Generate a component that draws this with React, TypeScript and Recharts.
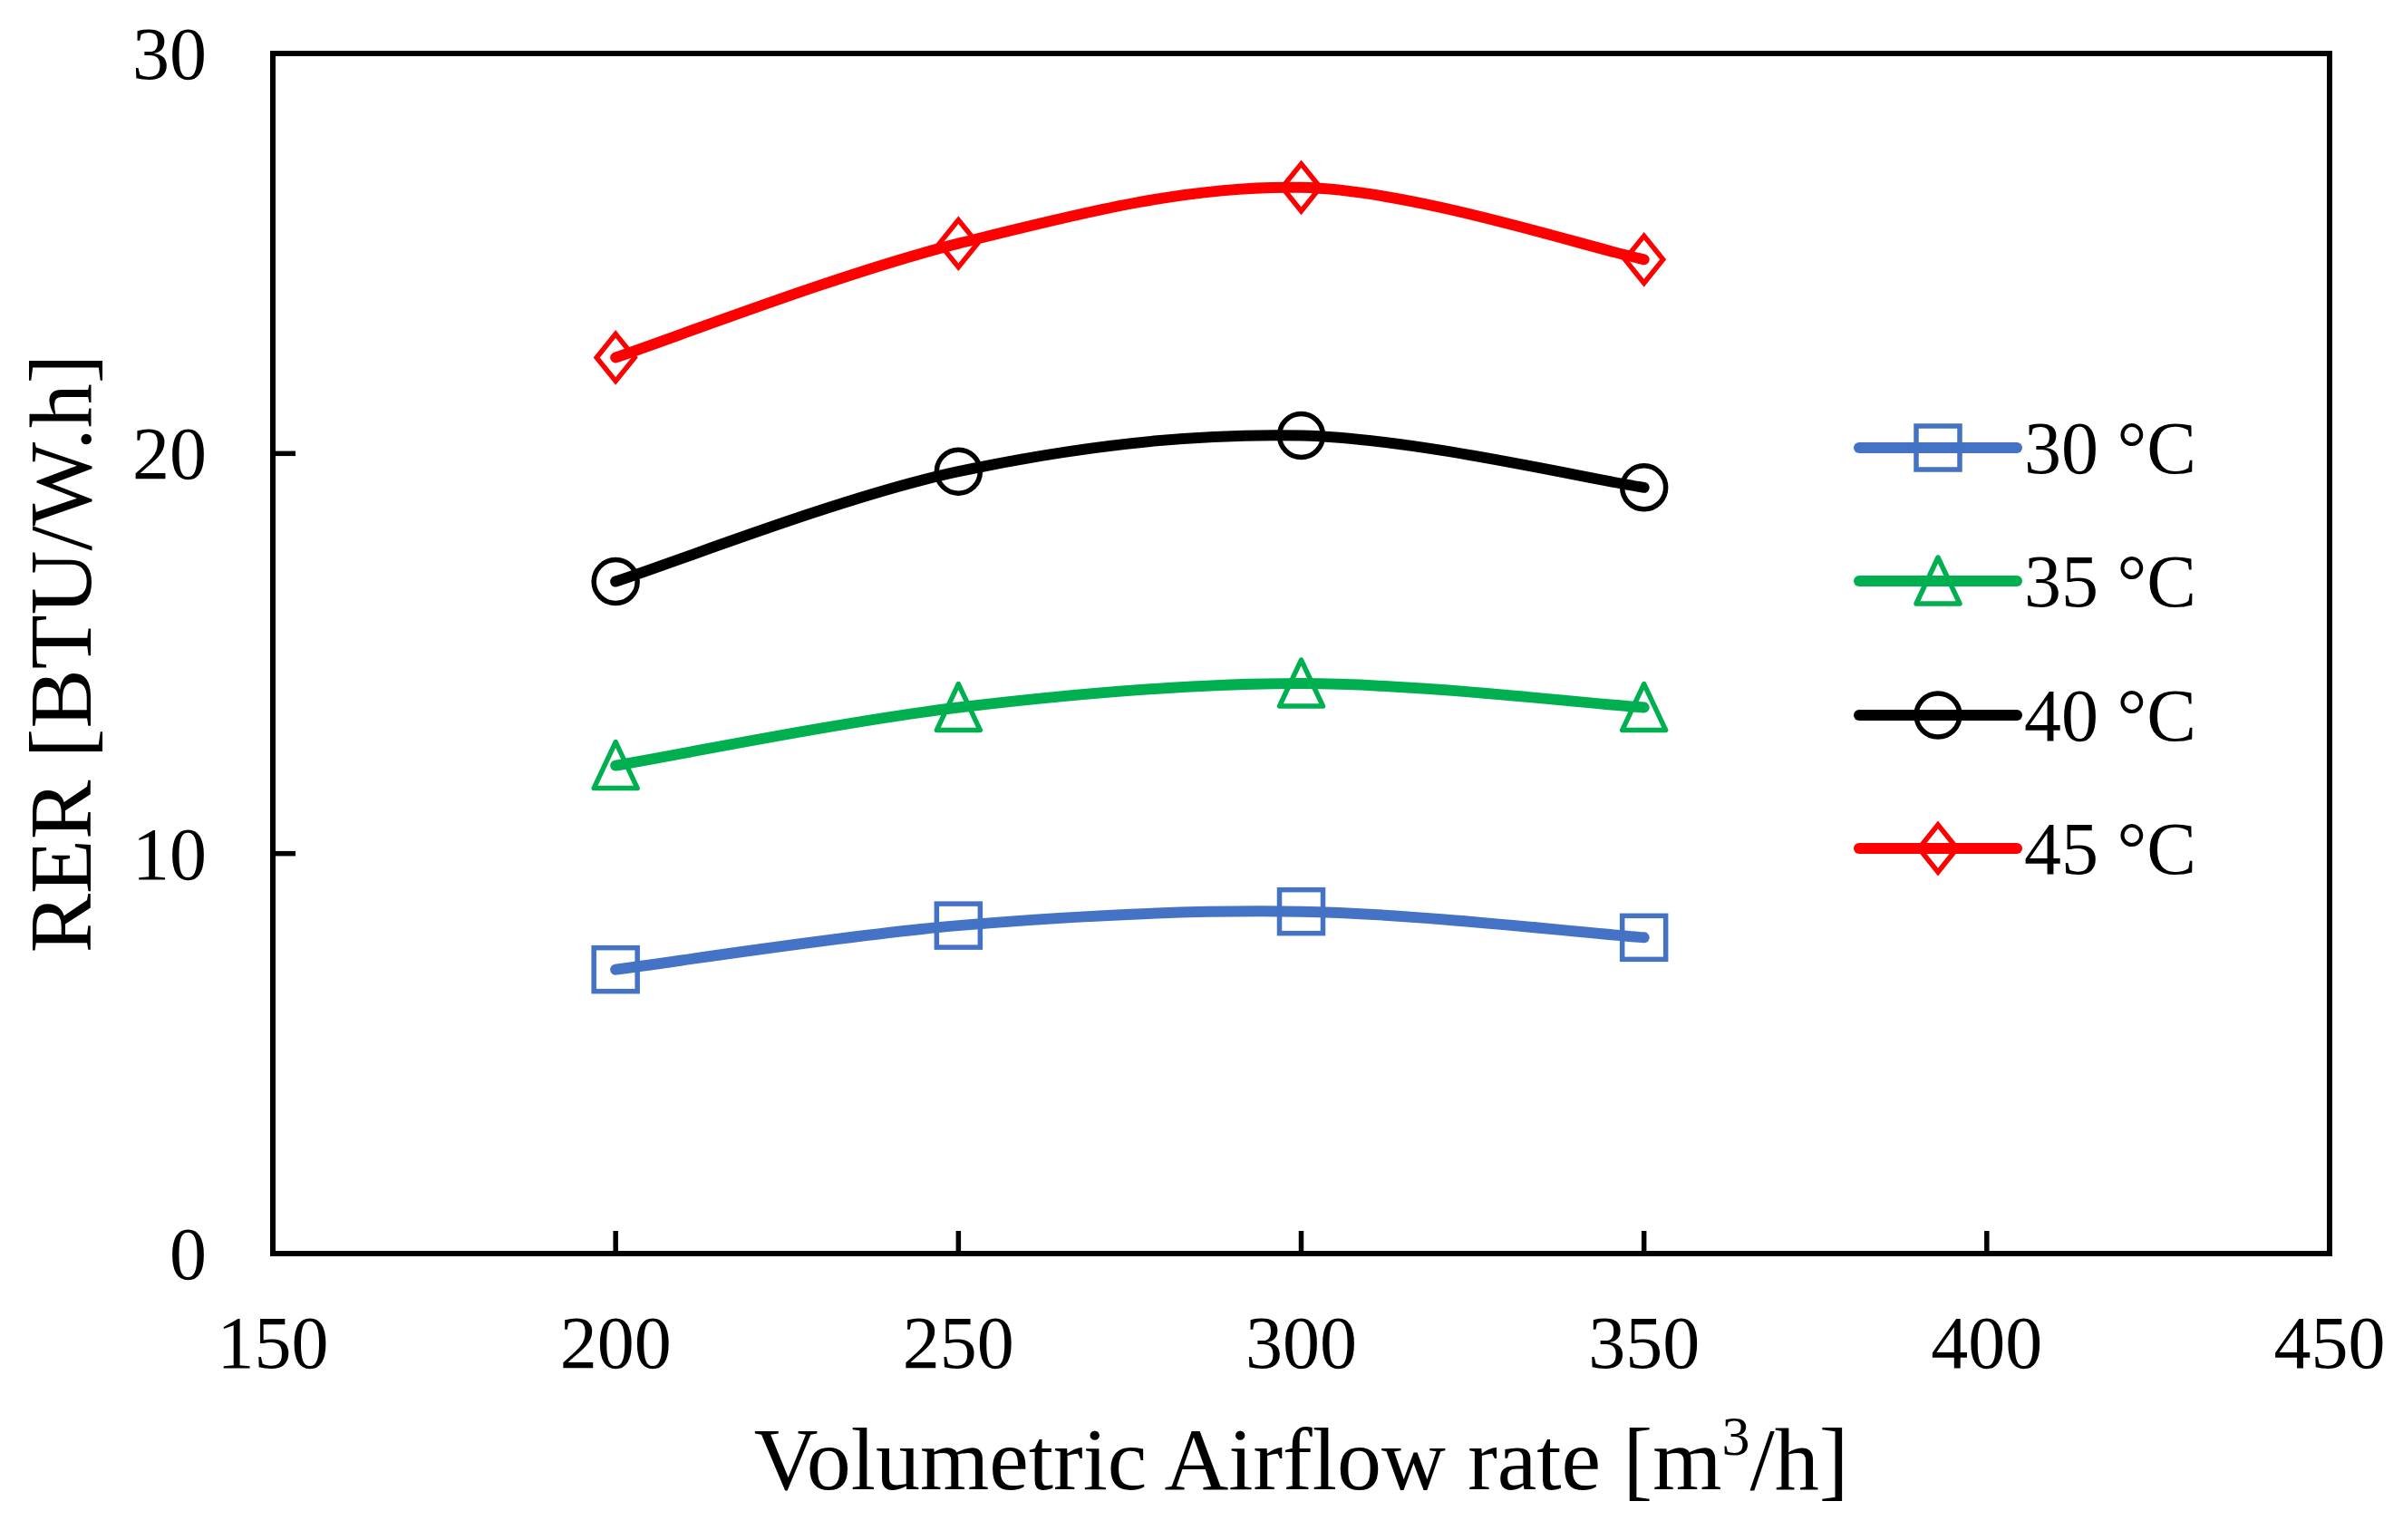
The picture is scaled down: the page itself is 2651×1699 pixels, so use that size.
import { Legend, Line, LineChart, ReferenceArea, XAxis, YAxis } from "recharts";

// Volumetric airflow rate [m3/h] and RER readings per ambient temperature
const airflow = [200, 250, 300, 350];
const rer30 = [7.1, 8.2, 8.55, 7.9];
const rer35 = [12.2, 13.65, 14.25, 13.65];
const rer40 = [16.8, 19.55, 20.45, 19.15];
const rer45 = [22.4, 25.25, 26.65, 24.85];

const xTicks = [150, 200, 250, 300, 350, 400, 450];
const yTicks = [0, 10, 20, 30];

const FONT = "'Liberation Serif', 'Times New Roman', serif";
const STROKE = 5.5;
const AXIS = 6;

type Shape = "square" | "triangle" | "circle" | "diamond";

const SERIES: { key: string; name: string; color: string; shape: Shape }[] = [
  { key: "t30", name: "30 °C", color: "#4472C4", shape: "square" },
  { key: "t35", name: "35 °C", color: "#00B050", shape: "triangle" },
  { key: "t40", name: "40 °C", color: "#000000", shape: "circle" },
  { key: "t45", name: "45 °C", color: "#FF0000", shape: "diamond" },
];

const data = airflow.map((x, i) => ({
  x,
  t30: rer30[i],
  t35: rer35[i],
  t40: rer40[i],
  t45: rer45[i],
}));

// Excel-like smoothed line (Catmull-Rom through the points)
function excelSmooth(context: any) {
  let pts: number[][] = [];
  return {
    areaStart() {},
    areaEnd() {},
    lineStart() {
      pts = [];
    },
    point(x: number, y: number) {
      pts.push([+x, +y]);
    },
    lineEnd() {
      if (!pts.length) return;
      context.moveTo(pts[0][0], pts[0][1]);
      for (let i = 0; i < pts.length - 1; i++) {
        const p0 = pts[i - 1] ?? pts[i];
        const p1 = pts[i];
        const p2 = pts[i + 1];
        const p3 = pts[i + 2] ?? p2;
        context.bezierCurveTo(
          p1[0] + (p2[0] - p0[0]) / 6,
          p1[1] + (p2[1] - p0[1]) / 6,
          p2[0] - (p3[0] - p1[0]) / 6,
          p2[1] - (p3[1] - p1[1]) / 6,
          p2[0],
          p2[1]
        );
      }
    },
  };
}

function Marker({ cx, cy, shape, color }: { cx: number; cy: number; shape: Shape; color: string }) {
  const common = { fill: "none", stroke: color, strokeWidth: STROKE };
  if (shape === "square") {
    return <rect x={cx - 24} y={cy - 24} width={48} height={48} {...common} />;
  }
  if (shape === "circle") {
    return <circle cx={cx} cy={cy} r={24} {...common} />;
  }
  if (shape === "triangle") {
    return (
      <path
        d={`M${cx},${cy - 26}L${cx + 24},${cy + 25}L${cx - 24},${cy + 25}Z`}
        strokeLinejoin="round"
        {...common}
      />
    );
  }
  return (
    <path d={`M${cx},${cy - 26}L${cx + 21},${cy}L${cx},${cy + 26}L${cx - 21},${cy}Z`} {...common} />
  );
}

function XTick({ x, y, payload }: any) {
  const inner = payload.value !== 150 && payload.value !== 450;
  return (
    <g>
      {inner && <line x1={x} x2={x} y1={y} y2={y - 25} stroke="#000" strokeWidth={STROKE} />}
      <text x={x} y={y + 126} textAnchor="middle" fontSize={82} fontFamily={FONT} fill="#000">
        {payload.value}
      </text>
    </g>
  );
}

function YTick({ x, y, payload }: any) {
  const inner = payload.value !== 0 && payload.value !== 30;
  return (
    <g>
      {inner && <line x1={x} x2={x + 25} y1={y} y2={y} stroke="#000" strokeWidth={STROKE} />}
      <text x={x - 73} y={y + 28} textAnchor="end" fontSize={82} fontFamily={FONT} fill="#000">
        {payload.value}
      </text>
    </g>
  );
}

function LegendBox() {
  return (
    <div style={{ fontFamily: FONT }}>
      {SERIES.map((s) => (
        <div key={s.key} style={{ display: "flex", alignItems: "center", height: 147.5 }}>
          <svg width={186} height={70} style={{ overflow: "visible" }}>
            <line x1={6} x2={180} y1={35} y2={35} stroke={s.color} strokeWidth={12} strokeLinecap="round" />
            <Marker cx={93} cy={35} shape={s.shape} color={s.color} />
          </svg>
          <span style={{ fontSize: 82, lineHeight: "70px", marginLeft: 2, marginTop: 2 }}>{s.name}</span>
        </div>
      ))}
    </div>
  );
}

export default function App() {
  return (
    <div style={{ width: 2651, height: 1699, background: "#fff" }}>
      <style>{"body{margin:0}"}</style>
      <LineChart
        width={2651}
        height={1699}
        data={data}
        margin={{ top: 59, right: 81, bottom: 0, left: 0 }}
      >
        <ReferenceArea
          x1={150}
          x2={450}
          y1={0}
          y2={30}
          fill="none"
          stroke="#000"
          strokeWidth={AXIS}
          fillOpacity={0}
          ifOverflow="visible"
        />
        <XAxis
          dataKey="x"
          type="number"
          domain={[150, 450]}
          ticks={xTicks}
          height={316}
          tickSize={0}
          tickMargin={0}
          tickLine={false}
          axisLine={{ stroke: "#000", strokeWidth: AXIS }}
          tick={<XTick />}
          interval={0}
          label={{
            content: ({ viewBox }: any) => (
              <text
                x={viewBox.x + viewBox.width / 2}
                y={viewBox.y + 260}
                textAnchor="middle"
                fontSize={98}
                fontFamily={FONT}
                fill="#000"
              >
                Volumetric Airflow rate [m
                <tspan dy={-38} fontSize={62}>
                  3
                </tspan>
                <tspan dy={38}>/h]</tspan>
              </text>
            ),
          }}
        />
        <YAxis
          type="number"
          domain={[0, 30]}
          ticks={yTicks}
          width={301}
          tickSize={0}
          tickMargin={0}
          tickLine={false}
          axisLine={{ stroke: "#000", strokeWidth: AXIS }}
          tick={<YTick />}
          interval={0}
          label={{
            content: ({ viewBox }: any) => {
              const cy = viewBox.y + viewBox.height / 2;
              return (
                <text
                  x={100}
                  y={cy}
                  transform={`rotate(-90 100 ${cy})`}
                  textAnchor="middle"
                  fontSize={98}
                  fontFamily={FONT}
                  fill="#000"
                >
                  RER [BTU/W.h]
                </text>
              );
            },
          }}
        />
        {SERIES.map((s) => (
          <Line
            key={s.key}
            dataKey={s.key}
            name={s.name}
            type={excelSmooth as any}
            stroke={s.color}
            strokeWidth={12}
            strokeLinecap="round"
            isAnimationActive={false}
            dot={(p: any) => <Marker key={`${s.key}-${p.index}`} cx={p.cx} cy={p.cy} shape={s.shape} color={s.color} />}
            activeDot={false}
          />
        ))}
        <Legend
          layout="vertical"
          align="center"
          verticalAlign="middle"
          content={() => <LegendBox />}
          wrapperStyle={{ left: 2045, top: 420, width: 500 }}
        />
      </LineChart>
    </div>
  );
}
